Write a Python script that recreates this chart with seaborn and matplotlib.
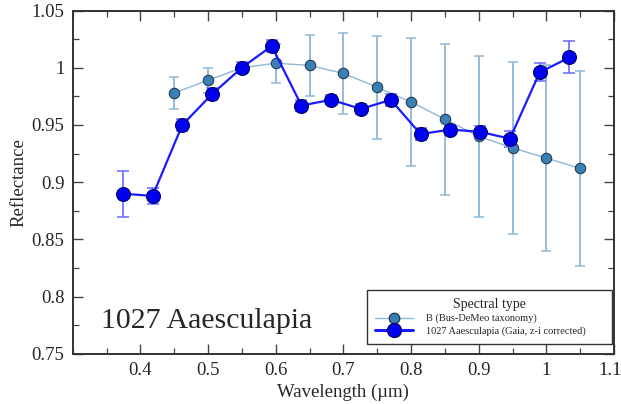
import numpy as np
import pandas as pd
import matplotlib
matplotlib.use("Agg")
import matplotlib.pyplot as plt
import matplotlib.transforms as mtransforms
from matplotlib.lines import Line2D
from matplotlib.ticker import MultipleLocator, FuncFormatter
import seaborn as sns

# Bus-DeMeo B-type taxonomy
b_wave = [0.45, 0.50, 0.55, 0.60, 0.65, 0.70, 0.75, 0.80, 0.85, 0.90, 0.95, 1.00, 1.05]
b_refl = [0.978, 0.989, 1.000, 1.004, 1.002, 0.995, 0.983, 0.970, 0.955, 0.940, 0.930, 0.921, 0.912]
b_err = [0.014, 0.011, 0.004, 0.017, 0.027, 0.035, 0.045, 0.056, 0.066, 0.070, 0.075, 0.081, 0.085]

# 1027 Aaesculapia (Gaia)
g_wave = [0.374, 0.418, 0.462, 0.506, 0.550, 0.594, 0.638, 0.682, 0.726, 0.770,
          0.814, 0.858, 0.902, 0.946, 0.990, 1.034]
g_refl = [0.890, 0.888, 0.950, 0.977, 1.000, 1.019, 0.967, 0.972, 0.964, 0.972,
          0.942, 0.946, 0.944, 0.938, 0.996, 1.009]
g_err = [0.020, 0.007, 0.005, 0.005, 0.005, 0.005, 0.005, 0.004, 0.004, 0.005,
         0.005, 0.004, 0.005, 0.007, 0.008, 0.014]

b_label = "B (Bus-DeMeo taxonomy)"
g_label = "1027 Aaesculapia (Gaia, z-i corrected)"
x_ticks = [0.4, 0.5, 0.6, 0.7, 0.8, 0.9, 1.0, 1.1]

sns.set_theme(style="ticks")
plt.rcParams["font.family"] = ["Liberation Serif", "DejaVu Serif"]

fig = plt.figure(figsize=(6.21, 4.04), dpi=100)
ax = fig.add_axes([0.117, 0.124, 0.872, 0.850])

b_line = "#8fb8d8"
b_face = "#3a80b2"
b_edge = "#1e3c5a"
g_line = "#1a1aff"
g_face = "#0000f0"
g_edge = "#00006a"
g_ebar = "#6a6aff"

df_b = pd.DataFrame({"w": b_wave, "r": b_refl})
df_g = pd.DataFrame({"w": g_wave, "r": g_refl})

ax.errorbar(b_wave, b_refl, yerr=b_err, fmt="none", ecolor=b_line, elinewidth=1.3,
            capsize=3.5, capthick=1.1, zorder=1)
sns.lineplot(data=df_b, x="w", y="r", ax=ax, color=b_line, lw=1.0, marker="o",
             markersize=7.5, markerfacecolor=b_face, markeredgecolor=b_edge,
             markeredgewidth=0.8, zorder=2, legend=False)

ax.errorbar(g_wave, g_refl, yerr=g_err, fmt="none", ecolor=g_ebar, elinewidth=1.2,
            capsize=4, capthick=1.1, zorder=3)
sns.lineplot(data=df_g, x="w", y="r", ax=ax, color=g_line, lw=1.6, marker="o",
             markersize=10, markerfacecolor=g_face, markeredgecolor=g_edge,
             markeredgewidth=0.8, zorder=4, legend=False)

ax.set_xlim(0.3, 1.1)
ax.set_ylim(0.75, 1.05)
ax.xaxis.set_minor_locator(MultipleLocator(0.05))
ax.yaxis.set_major_locator(MultipleLocator(0.05))
ax.yaxis.set_minor_locator(MultipleLocator(0.025))
fmt = FuncFormatter(lambda v, p: ("%.2f" % v).rstrip("0").rstrip("."))
ax.set_xticks(x_ticks)
ax.xaxis.set_major_formatter(fmt)
ax.yaxis.set_major_formatter(fmt)
ax.tick_params(which="both", direction="in", top=True, right=True, color="#444444")
ax.tick_params(which="major", length=7, width=1.0, labelsize=13.5, pad=6)
ax.tick_params(which="minor", length=4, width=0.9)
for s in ax.spines.values():
    s.set_color("#333333")
    s.set_linewidth(1.4)

# nudge the last x tick label so it stays inside the figure
fig.canvas.draw()
last = ax.get_xticklabels()[-1]
last.set_transform(last.get_transform() + mtransforms.ScaledTranslation(-4 / 100, 0, fig.dpi_scale_trans))

ax.set_xlabel("Wavelength (µm)", fontsize=13.5, labelpad=3)
ax.set_ylabel("Reflectance", fontsize=13.5, labelpad=3)

ax.text(0.498, 0.779, "1027 Aaesculapia", fontsize=21.5, ha="center", va="center")

handles = [
    Line2D([], [], color=b_line, lw=1.0, marker="o", markersize=7.5,
           markerfacecolor=b_face, markeredgecolor=b_edge),
    Line2D([], [], color=g_line, lw=2.2, marker="o", markersize=10,
           markerfacecolor=g_face, markeredgecolor=g_edge),
]
leg = ax.legend(handles, [b_label, g_label], title="Spectral type", loc="lower left",
                bbox_to_anchor=(0.5434, 0.029, 0.4532, 0.15), mode="expand",
                fontsize=7.5, title_fontsize=10,
                frameon=True, fancybox=False, edgecolor="#333333", framealpha=1,
                handlelength=3.65, labelspacing=0.25, borderpad=0.8, handletextpad=1.2,
                borderaxespad=0.0)
leg.get_frame().set_linewidth(1.0)

fig.savefig("out.png", dpi=100)
